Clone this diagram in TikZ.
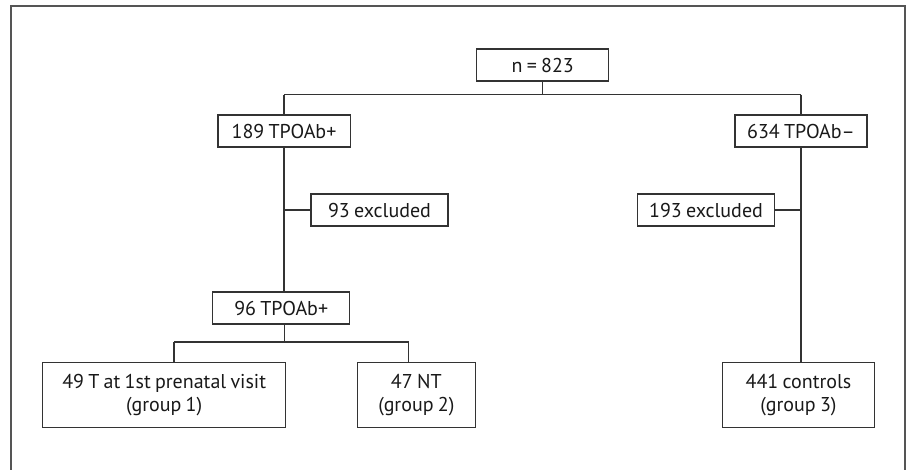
\documentclass[tikz,border=0pt]{standalone}
\usepackage{fontspec}
\setmainfont{PT Sans}[WordSpace=0.8]
\begin{document}
\begin{tikzpicture}[x=1pt,y=-1pt,
  box/.style={draw=boxcol,line width=1.3pt,inner sep=0pt,minimum height=32pt,align=center,
    font=\fontsize{20}{23.5}\selectfont,text=black!90},
  tallbox/.style={box,minimum height=64.6pt},
  conn/.style={draw=boxcol,line width=1.3pt},
  frame/.style={draw=framecol,line width=1.8pt}]
\definecolor{boxcol}{HTML}{333333}
\definecolor{framecol}{HTML}{555555}
\useasboundingbox (0,0) rectangle (909,469);
\draw[frame] (11,470) -- (11,6) -- (905,6) -- (905,470);
\node[box,minimum width=132pt] (n) at (542.7,65) {n = 823};
\node[box,minimum width=132.3pt] (a189) at (284,131) {189 TPOAb+};
\node[box,minimum width=132pt] (a634) at (801,131) {634 TPOAb\textendash};
\node[box,minimum width=137pt] (ex93) at (379.5,210) {93 excluded};
\node[box,minimum width=137.4pt] (ex193) at (706,210) {193 excluded};
\node[box,minimum width=137pt] (b96) at (281.2,308) {96 TPOAb+};
\node[tallbox,minimum width=243pt] (g1) at (164.2,395) {49 T at 1st prenatal visit\\(group 1)};
\node[tallbox,minimum width=118pt] (g2) at (416.3,395) {47 NT\\(group 2)};
\node[tallbox,minimum width=151.6pt] (g3) at (798.5,395) {441 controls\\(group 3)};
\coordinate (j1) at (542.7,94.5);
\coordinate (j2) at (284.3,342);
\coordinate (j2l) at (174,342);
\coordinate (j2r) at (408.7,342);
% top split
\draw[conn] (n.south) -- (j1);
\draw[conn] (a189.north |- j1) -- (a634.north |- j1);
\draw[conn] (a189.north |- j1) -- (a189.north);
\draw[conn] (a634.north |- j1) -- (a634.north);
% left branch
\draw[conn] (a189.south) -- (a189.south |- b96.north);
\draw[conn] (ex93.west) -- (ex93.west -| a189.south);
\draw[conn] (j2 |- b96.south) -- (j2);
\draw[conn] (j2l) -- (j2r);
\draw[conn] (j2l) -- (j2l |- g1.north);
\draw[conn] (j2r) -- (j2r |- g2.north);
% right branch
\draw[conn] (a634.south) -- (a634.south |- g3.north);
\draw[conn] (ex193.east) -- (ex193.east -| a634.south);
\end{tikzpicture}
\end{document}
